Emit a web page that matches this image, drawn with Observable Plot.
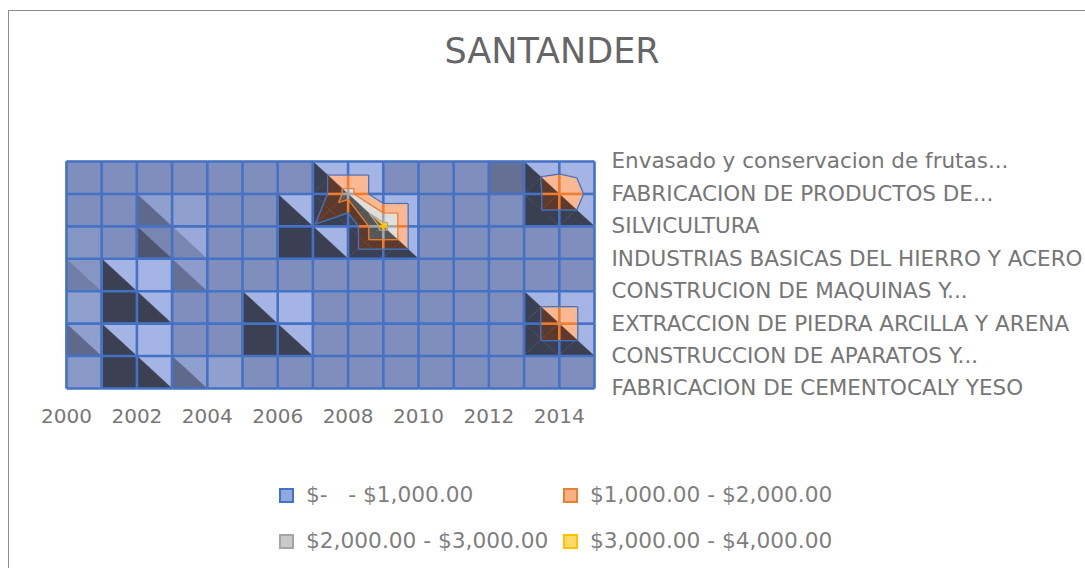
<!DOCTYPE html>
<html>
<head>
<meta charset="utf-8">
<script src="https://cdn.jsdelivr.net/npm/d3@7"></script>
<script src="https://cdn.jsdelivr.net/npm/@observablehq/plot@0.6"></script>
<style>
  body { margin: 0; background: #fff; }
  #chart { position: relative; width: 1085px; height: 568px; overflow: hidden; font-family: "DejaVu Sans", sans-serif; }
  #frame { position: absolute; left: 8px; top: 10px; width: 1200px; height: 700px; border-left: 1.5px solid #8c8c8c; border-top: 1.5px solid #8c8c8c; }
  #title { position: absolute; left: 0; width: 1104px; top: 30px; text-align: center; font-size: 35px; line-height: 42px; color: #666; }
  #plot { position: absolute; left: 0; top: 130px; }
  .lg { position: absolute; font-size: 21.7px; line-height: 26px; color: #7f7f7f; white-space: pre; }
  .sw { position: absolute; width: 15px; height: 15px; box-sizing: border-box; border: 2px solid; }
</style>
</head>
<body>
<div id="chart">
  <div id="frame"></div>
  <div id="title">SANTANDER</div>
  <div id="plot"></div>
  <div id="legend"></div>
</div>
<script>
// ---- data ----
const years = [2000, 2001, 2002, 2003, 2004, 2005, 2006, 2007, 2008, 2009, 2010, 2011, 2012, 2013, 2014, 2015];
const seriesNames = [
  "Envasado y conservacion de frutas...",
  "FABRICACION DE PRODUCTOS DE...",
  "SILVICULTURA",
  "INDUSTRIAS BASICAS DEL HIERRO Y ACERO",
  "CONSTRUCION DE MAQUINAS Y...",
  "EXTRACCION DE PIEDRA ARCILLA Y ARENA",
  "CONSTRUCCION DE APARATOS Y...",
  "FABRICACION DE CEMENTOCALY YESO"
];
const envasado     = [0, 0, 0, 0, 0, 0, 0, 0, 0, 0, 0, 0, 0, 120, 380, 0];
const fabProductos = [0, 0, 0, 0, 0, 0, 0, 0, 2400, 0, 0, 0, 0, 0, 1990, 555];
const silvicultura = [0, 0, 0, 150, 0, 0, 0, 900, 0, 3400, 0, 0, 0, 0, 0, 0];
const industrias   = [60, 0, 0, 120, 0, 0, 0, 0, 0, 0, 0, 0, 0, 0, 0, 0];
const maquinas     = [0, 0, 800, 0, 0, 0, 0, 0, 0, 0, 0, 0, 0, 0, 0, 0];
const extraccion   = [150, 0, 0, 0, 0, 0, 800, 0, 0, 0, 0, 0, 0, 0, 2100, 0];
const aparatos     = [0, 0, 800, 0, 0, 0, 0, 0, 0, 0, 0, 0, 0, 0, 0, 0];
const cemento      = [80, 0, 0, 0, 150, 0, 0, 0, 0, 0, 0, 0, 0, 0, 0, 0];
const xTicks = [2000, 2002, 2004, 2006, 2008, 2010, 2012, 2014];
const thresholds = [1000, 2000, 3000];
const legendLabels = ["$-   - $1,000.00", "$1,000.00 - $2,000.00", "$2,000.00 - $3,000.00", "$3,000.00 - $4,000.00"];

// ---- styles ----
const lineColors = ["#4472c4", "#ed7d31", "#a5a5a5", "#ffc000"];
const swatchFill = ["#8faadc", "#f4b183", "#c9c9c9", "#ffd966"];
const bandShade = [
  {flat: "#7f8ebc", light: "#a4b4e4", dark: "#3a3f52"},
  {flat: "#e79c77", light: "#f9b892", dark: "#5e3a2c"},
  {flat: "#b8b8b8", light: "#dedede", dark: "#565656"},
  {flat: "#f0c040", light: "#ffd24d", dark: "#7a6020"}
];

const Z = [envasado, fabProductos, silvicultura, industrias, maquinas, extraccion, aparatos, cemento];
const nR = Z.length, nC = years.length;
const bandOf = z => z < thresholds[0] ? 0 : z < thresholds[1] ? 1 : z < thresholds[2] ? 2 : 3;

function shadeColor(band, raw) {
  const t = Math.tanh(raw / 300);
  const s = bandShade[band];
  return t >= 0 ? d3.interpolateRgb(s.flat, s.dark)(t) : d3.interpolateRgb(s.flat, s.light)(-t);
}

function clip(poly, t, keepAbove) {
  const out = [];
  for (let i = 0; i < poly.length; i++) {
    const p = poly[i], q = poly[(i + 1) % poly.length];
    const pin = keepAbove ? p.z >= t : p.z <= t;
    const qin = keepAbove ? q.z >= t : q.z <= t;
    if (pin) out.push(p);
    if (pin !== qin) {
      const f = (t - p.z) / (q.z - p.z);
      out.push({x: p.x + f * (q.x - p.x), y: p.y + f * (q.y - p.y), z: t});
    }
  }
  return out;
}

function polyArea(poly) {
  let a = 0;
  for (let i = 0; i < poly.length; i++) {
    const p = poly[i], q = poly[(i + 1) % poly.length];
    a += p.x * q.y - q.x * p.y;
  }
  return Math.abs(a) / 2;
}

// each cell: two shaded halves (split TL-BR); contours use 4 sub-triangles around the centre
const tris = [];      // sub-triangles used for contour lines
const fillPolys = []; // {pts, raw}
for (let r = 0; r < nR - 1; r++) {
  for (let c = 0; c < nC - 1; c++) {
    const TL = {x: years[c], y: r, z: Z[r][c]};
    const TR = {x: years[c + 1], y: r, z: Z[r][c + 1]};
    const BR = {x: years[c + 1], y: r + 1, z: Z[r + 1][c + 1]};
    const BL = {x: years[c], y: r + 1, z: Z[r + 1][c]};
    const a = TL.z, b = TR.z, cc = BR.z, d = BL.z;
    const C = {x: (TL.x + TR.x) / 2, y: r + 0.5, z: Math.max((a + cc) / 2, (b + d) / 2)};
    const halves = [
      {raw: -a + b - cc - d, whole: [TL, TR, BR], subs: [[TL, TR, C], [TR, BR, C]]},
      {raw: a + b + cc - d, whole: [TL, BL, BR], subs: [[BR, BL, C], [BL, TL, C]]}
    ];
    for (const h of halves) for (const s of h.subs) tris.push({pts: s, raw: h.raw});
    const cellBands = new Set([TL, TR, BR, BL, C].map(p => bandOf(p.z)));
    const band0 = bandOf(a);
    if (cellBands.size === 1 && shadeColor(band0, halves[0].raw) === shadeColor(band0, halves[1].raw)) {
      fillPolys.push({pts: [TL, TR, BR, BL], raw: halves[0].raw});
      continue;
    }
    for (const h of halves) {
      const bands = new Set([...h.whole, C].map(p => bandOf(p.z)));
      if (bands.size === 1) fillPolys.push({pts: h.whole, raw: h.raw});
      else for (const s of h.subs) fillPolys.push({pts: s, raw: h.raw});
    }
  }
}

// band polygons -> area rows
const areaRows = [];
let pid = 0;
const bandLims = [[-Infinity, thresholds[0]], [thresholds[0], thresholds[1]], [thresholds[1], thresholds[2]], [thresholds[2], Infinity]];
for (const tri of fillPolys) {
  bandLims.forEach(([lo, hi], band) => {
    let poly = tri.pts;
    if (isFinite(lo)) poly = clip(poly, lo, true);
    if (poly.length >= 3 && isFinite(hi)) poly = clip(poly, hi, false);
    if (poly.length < 3 || polyArea(poly) < 1e-7) return;
    const fill = shadeColor(band, tri.raw);
    const xs = [];
    for (const p of poly) if (!xs.some(x => Math.abs(x - p.x) < 1e-9)) xs.push(p.x);
    xs.sort((u, v) => u - v);
    const id = pid++;
    for (const x of xs) {
      let y1 = Infinity, y2 = -Infinity;
      for (let i = 0; i < poly.length; i++) {
        const p = poly[i], q = poly[(i + 1) % poly.length];
        const lo2 = Math.min(p.x, q.x) - 1e-9, hi2 = Math.max(p.x, q.x) + 1e-9;
        if (x < lo2 || x > hi2) continue;
        if (Math.abs(q.x - p.x) < 1e-9) {
          y1 = Math.min(y1, p.y, q.y); y2 = Math.max(y2, p.y, q.y);
        } else {
          const y = p.y + (x - p.x) * (q.y - p.y) / (q.x - p.x);
          y1 = Math.min(y1, y); y2 = Math.max(y2, y);
        }
      }
      areaRows.push({id, x, y1, y2, fill});
    }
  });
}

// wireframe (grid lines) split by band
const gridSegs = [];
function addEdge(p, q) {
  const fs = [0, 1];
  for (const t of thresholds) {
    if ((p.z - t) * (q.z - t) < 0) fs.push((t - p.z) / (q.z - p.z));
  }
  fs.sort((u, v) => u - v);
  for (let i = 0; i < fs.length - 1; i++) {
    const f0 = fs[i], f1 = fs[i + 1];
    const fm = (f0 + f1) / 2;
    const zm = p.z + fm * (q.z - p.z);
    gridSegs.push({
      x1: p.x + f0 * (q.x - p.x), y1: p.y + f0 * (q.y - p.y),
      x2: p.x + f1 * (q.x - p.x), y2: p.y + f1 * (q.y - p.y),
      color: lineColors[bandOf(zm)]
    });
  }
}
for (let r = 0; r < nR; r++)
  for (let c = 0; c < nC - 1; c++)
    addEdge({x: years[c], y: r, z: Z[r][c]}, {x: years[c + 1], y: r, z: Z[r][c + 1]});
for (let c = 0; c < nC; c++)
  for (let r = 0; r < nR - 1; r++)
    addEdge({x: years[c], y: r, z: Z[r][c]}, {x: years[c], y: r + 1, z: Z[r + 1][c]});

// contour lines
const contourSegs = [];
for (const tri of tris) {
  thresholds.forEach((t, k) => {
    const pts = [];
    for (let i = 0; i < 3; i++) {
      const p = tri.pts[i], q = tri.pts[(i + 1) % 3];
      if ((p.z - t) * (q.z - t) < 0) {
        const f = (t - p.z) / (q.z - p.z);
        pts.push({x: p.x + f * (q.x - p.x), y: p.y + f * (q.y - p.y)});
      }
    }
    if (pts.length === 2) contourSegs.push({x1: pts[0].x, y1: pts[0].y, x2: pts[1].x, y2: pts[1].y, color: lineColors[k]});
  });
}

const plot = Plot.plot({
  width: 1085,
  height: 310,
  marginTop: 31,
  marginBottom: 52,
  marginLeft: 66,
  marginRight: 491,
  style: {fontFamily: "DejaVu Sans", fontSize: "20px", color: "#767676", background: "transparent", overflow: "visible"},
  x: {domain: [years[0], years[years.length - 1]], nice: false},
  y: {domain: [0, nR - 1], reverse: true, nice: false},
  color: {type: "identity"},
  marks: [
    Plot.areaY(areaRows, {x: "x", y1: "y1", y2: "y2", z: "id", fill: "fill", stroke: "fill", strokeWidth: 0.5, curve: "linear"}),
    Plot.link(gridSegs, {x1: "x1", y1: "y1", x2: "x2", y2: "y2", stroke: "color", strokeWidth: 2.6, strokeLinecap: "butt"}),
    Plot.link(contourSegs, {x1: "x1", y1: "y1", x2: "x2", y2: "y2", stroke: "color", strokeWidth: 1.3}),
    Plot.axisX({ticks: xTicks, tickFormat: d => String(d), tickSize: 0, tickPadding: 20, label: null}),
    Plot.axisY({anchor: "right", ticks: d3.range(nR), tickFormat: i => seriesNames[i], tickSize: 0, tickPadding: 17, label: null, fontSize: 21.5})
  ]
});
document.getElementById("plot").appendChild(plot);

// legend
const legendPos = [[279, 495], [563, 495], [279, 541], [563, 541]];
const lg = document.getElementById("legend");
legendLabels.forEach((txt, i) => {
  const [x, y] = legendPos[i];
  const sw = document.createElement("div");
  sw.className = "sw";
  sw.style.left = x + "px";
  sw.style.top = (y - 7) + "px";
  sw.style.background = swatchFill[i];
  sw.style.borderColor = lineColors[i];
  lg.appendChild(sw);
  const t = document.createElement("div");
  t.className = "lg";
  t.style.left = (x + 27) + "px";
  t.style.top = (y - 13) + "px";
  t.textContent = txt;
  lg.appendChild(t);
});
</script>
</body>
</html>
